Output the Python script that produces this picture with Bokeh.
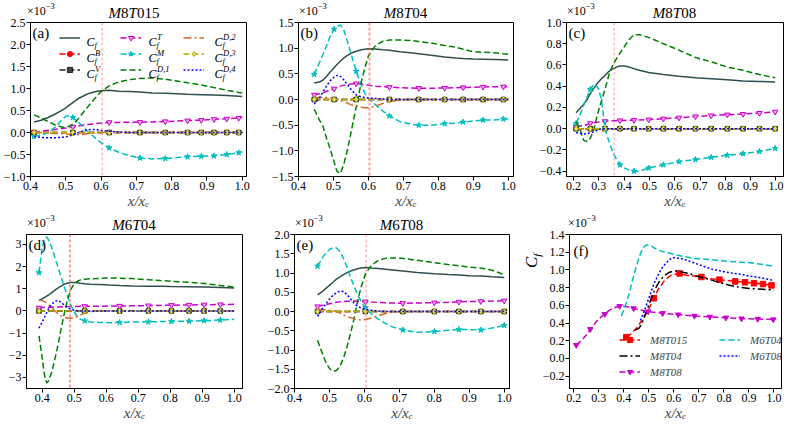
from bokeh.plotting import figure
from bokeh.layouts import row, column
from bokeh.models import (Range1d, FixedTicker, CustomJSTickFormatter, Span, Label,
                          Legend, LegendItem, Div)
from bokeh.embed import file_html
from bokeh.resources import INLINE

FONT = "Liberation Serif"

# ---------------- data (values in units of 1e-3) ----------------
# (a) M8T015
xa = [0.41, 0.43, 0.45, 0.47, 0.49, 0.50, 0.51, 0.52, 0.53, 0.54, 0.55, 0.56, 0.57, 0.58, 0.59,
      0.60, 0.623, 0.65, 0.68, 0.71, 0.745, 0.782, 0.815, 0.845, 0.884, 0.92, 0.956, 0.99, 1.0]
mk_a = [0, 7, 16, 19, 21, 23, 24, 25, 26, 27]
cf_a = [0.24, 0.28, 0.34, 0.42, 0.51, 0.56, 0.62, 0.68, 0.74, 0.79, 0.83, 0.87, 0.90, 0.92, 0.94,
        0.95, 0.96, 0.94, 0.93, 0.92, 0.90, 0.89, 0.88, 0.87, 0.86, 0.85, 0.84, 0.825, 0.82]
b_a = [0.0, 0.0, 0.0, 0.0, 0.0, 0.0, 0.0, 0.0, 0.0, 0.0, 0.0, 0.0, 0.0, 0.0, 0.0,
       0.0, 0.0, 0.0, 0.0, 0.0, 0.0, 0.0, 0.0, 0.0, 0.0, 0.0, 0.0, 0.0, 0.0]
v_a = [0.0, 0.0, 0.0, 0.0, 0.0, 0.0, 0.0, 0.0, 0.0, 0.0, 0.0, 0.0, 0.0, 0.0, 0.0,
       0.0, 0.0, 0.0, 0.0, 0.0, 0.0, 0.0, 0.0, 0.0, 0.0, 0.0, 0.0, 0.0, 0.0]
t_a = [0.0, 0.03, 0.05, 0.07, 0.09, 0.10, 0.12, 0.13, 0.14, 0.155, 0.17, 0.18, 0.19, 0.20, 0.21,
       0.215, 0.23, 0.23, 0.235, 0.235, 0.24, 0.25, 0.26, 0.27, 0.28, 0.30, 0.31, 0.33, 0.34]
m_a = [-0.09, -0.06, 0.0, 0.12, 0.30, 0.37, 0.39, 0.34, 0.27, 0.20, 0.12, 0.04, -0.03, -0.10, -0.17,
       -0.23, -0.35, -0.45, -0.53, -0.58, -0.60, -0.59, -0.57, -0.55, -0.54, -0.53, -0.50, -0.46, -0.44]
d1_a = [0.40, 0.33, 0.25, 0.17, 0.12, 0.12, 0.14, 0.19, 0.26, 0.36, 0.46, 0.56, 0.66, 0.75, 0.84,
        0.93, 1.06, 1.15, 1.20, 1.23, 1.24, 1.21, 1.17, 1.13, 1.08, 1.02, 0.96, 0.91, 0.90]
d2_a = [0.0, 0.0, -0.01, -0.02, -0.03, -0.04, -0.04, -0.05, -0.05, -0.05, -0.04, -0.03, -0.02, -0.01, 0.0,
        0.0, 0.0, 0.0, 0.0, 0.0, 0.0, 0.0, 0.0, 0.0, 0.0, 0.0, 0.0, 0.0, 0.0]
d3_a = [0.0, 0.0, 0.0, 0.0, 0.0, 0.0, 0.0, 0.0, 0.0, 0.0, 0.0, 0.0, 0.0, 0.0, 0.0,
        0.0, 0.0, 0.0, 0.0, 0.0, 0.0, 0.0, 0.0, 0.0, 0.0, 0.0, 0.0, 0.0, 0.0]
d4_a = [-0.09, -0.11, -0.12, -0.12, -0.11, -0.10, -0.08, -0.05, -0.02, 0.01, 0.04, 0.06, 0.07, 0.07, 0.06,
        0.05, 0.03, 0.01, 0.0, 0.0, 0.0, 0.0, 0.0, 0.0, 0.0, 0.0, 0.0, 0.0, 0.0]

# (b) M8T04
xb = [0.445, 0.46, 0.47, 0.48, 0.49, 0.502, 0.51, 0.52, 0.53, 0.54, 0.55, 0.565, 0.58, 0.59, 0.60,
      0.62, 0.64, 0.66, 0.69, 0.72, 0.744, 0.78, 0.818, 0.85, 0.871, 0.90, 0.928, 0.96, 0.986, 1.0]
mk_b = [0, 5, 11, 17, 20, 22, 24, 26, 28]
cf_b = [0.32, 0.34, 0.38, 0.45, 0.53, 0.62, 0.68, 0.75, 0.81, 0.86, 0.90, 0.94, 0.97, 0.98, 0.99,
        0.985, 0.97, 0.96, 0.93, 0.91, 0.89, 0.86, 0.83, 0.81, 0.80, 0.79, 0.785, 0.78, 0.775, 0.77]
b_b = [0.0, 0.0, 0.0, 0.0, 0.0, 0.0, 0.0, 0.0, 0.0, 0.0, 0.0, 0.0, 0.0, 0.0, 0.0,
       0.0, 0.0, 0.0, 0.0, 0.0, 0.0, 0.0, 0.0, 0.0, 0.0, 0.0, 0.0, 0.0, 0.0, 0.0]
v_b = [0.0, 0.0, 0.0, 0.0, 0.0, 0.0, 0.0, 0.0, 0.0, 0.0, 0.0, 0.0, 0.0, 0.0, 0.0,
       0.0, 0.0, 0.0, 0.0, 0.0, 0.0, 0.0, 0.0, 0.0, 0.0, 0.0, 0.0, 0.0, 0.0, 0.0]
t_b = [0.09, 0.11, 0.13, 0.16, 0.18, 0.21, 0.24, 0.26, 0.28, 0.29, 0.30, 0.31, 0.30, 0.29, 0.28,
       0.26, 0.25, 0.24, 0.23, 0.225, 0.22, 0.22, 0.225, 0.23, 0.235, 0.24, 0.245, 0.25, 0.25, 0.25]
m_b = [0.49, 0.72, 0.88, 1.05, 1.22, 1.37, 1.43, 1.45, 1.35, 1.13, 0.90, 0.55, 0.27, 0.12, 0.02,
       -0.10, -0.22, -0.32, -0.43, -0.48, -0.50, -0.50, -0.47, -0.46, -0.44, -0.42, -0.40, -0.40, -0.38, -0.38]
d1_b = [-0.19, -0.40, -0.52, -0.75, -0.95, -1.22, -1.40, -1.44, -1.25, -0.98, -0.65, -0.15, 0.35, 0.62, 0.85,
        1.05, 1.13, 1.16, 1.16, 1.15, 1.13, 1.10, 1.05, 1.02, 0.98, 0.93, 0.92, 0.91, 0.89, 0.88]
d2_b = [0.03, 0.04, 0.04, 0.04, 0.03, 0.02, 0.0, -0.02, -0.04, -0.07, -0.10, -0.13, -0.15, -0.16, -0.16,
        -0.13, -0.08, -0.04, -0.01, 0.0, 0.0, 0.0, 0.0, 0.0, 0.0, 0.0, 0.0, 0.0, 0.0, 0.0]
d3_b = [0.0, 0.0, 0.0, 0.0, 0.0, 0.0, 0.0, 0.0, 0.0, 0.0, 0.0, 0.0, 0.0, 0.0, 0.0,
        0.0, 0.0, 0.0, 0.0, 0.0, 0.0, 0.0, 0.0, 0.0, 0.0, 0.0, 0.0, 0.0, 0.0, 0.0]
d4_b = [-0.09, 0.03, 0.15, 0.26, 0.36, 0.44, 0.47, 0.45, 0.38, 0.29, 0.20, 0.09, 0.05, 0.04, 0.03,
        0.02, 0.01, 0.0, 0.0, 0.0, 0.0, 0.0, 0.0, 0.0, 0.0, 0.0, 0.0, 0.0, 0.0, 0.0]

# (c) M8T08
xc = [0.21, 0.225, 0.24, 0.255, 0.266, 0.28, 0.295, 0.31, 0.324, 0.34, 0.355, 0.37, 0.383,
      0.40, 0.42, 0.439, 0.46, 0.497, 0.555, 0.617, 0.682, 0.744, 0.808, 0.870, 0.935, 0.997]
mk_c = [0, 4, 8, 12, 15, 17, 18, 19, 20, 21, 22, 23, 24, 25]
cf_c = [0.15, 0.19, 0.23, 0.28, 0.33, 0.38, 0.43, 0.47, 0.50, 0.54, 0.565, 0.58, 0.59,
        0.59, 0.58, 0.565, 0.55, 0.53, 0.51, 0.495, 0.48, 0.47, 0.46, 0.45, 0.445, 0.44]
b_c = [0.0, 0.0, 0.0, 0.0, 0.0, 0.0, 0.0, 0.0, 0.0, 0.0, 0.0, 0.0, 0.0,
       0.0, 0.0, 0.0, 0.0, 0.0, 0.0, 0.0, 0.0, 0.0, 0.0, 0.0, 0.0, 0.0]
v_c = [0.0, 0.0, 0.0, 0.0, 0.0, 0.0, 0.0, 0.0, 0.0, 0.0, 0.0, 0.0, 0.0,
       0.0, 0.0, 0.0, 0.0, 0.0, 0.0, 0.0, 0.0, 0.0, 0.0, 0.0, 0.0, 0.0]
t_c = [0.02, 0.025, 0.03, 0.04, 0.05, 0.055, 0.06, 0.065, 0.07, 0.072, 0.074, 0.076, 0.077,
       0.078, 0.079, 0.08, 0.082, 0.085, 0.094, 0.103, 0.115, 0.124, 0.132, 0.138, 0.147, 0.159]
m_c = [0.05, 0.13, 0.22, 0.31, 0.37, 0.42, 0.39, 0.28, 0.0, -0.12, -0.22, -0.29, -0.34,
       -0.37, -0.39, -0.40, -0.40, -0.37, -0.34, -0.31, -0.29, -0.27, -0.25, -0.235, -0.215, -0.185]
d1_c = [0.065, 0.0, -0.11, -0.12, -0.09, -0.01, 0.14, 0.26, 0.37, 0.51, 0.60, 0.66, 0.71,
        0.77, 0.84, 0.885, 0.885, 0.86, 0.80, 0.74, 0.67, 0.63, 0.58, 0.55, 0.51, 0.48]
d2_c = [0.0, 0.0, 0.0, 0.0, 0.0, 0.0, 0.0, 0.0, 0.0, 0.0, 0.0, 0.0, 0.0,
        0.0, 0.0, 0.0, 0.0, 0.0, 0.0, 0.0, 0.0, 0.0, 0.0, 0.0, 0.0, 0.0]
d3_c = [0.0, 0.0, 0.0, 0.0, 0.0, 0.0, 0.0, 0.0, 0.0, 0.0, 0.0, 0.0, 0.0,
        0.0, 0.0, 0.0, 0.0, 0.0, 0.0, 0.0, 0.0, 0.0, 0.0, 0.0, 0.0, 0.0]
d4_c = [-0.035, -0.045, -0.05, -0.045, -0.04, -0.03, -0.015, 0.0, 0.0, 0.0, 0.0, 0.0, 0.0,
        0.0, 0.0, 0.0, 0.0, 0.0, 0.0, 0.0, 0.0, 0.0, 0.0, 0.0, 0.0, 0.0]

# (d) M6T04
xd = [0.39, 0.40, 0.405, 0.41, 0.415, 0.42, 0.43, 0.44, 0.45, 0.46, 0.47, 0.48, 0.49, 0.50, 0.51,
      0.52, 0.533, 0.55, 0.58, 0.61, 0.642, 0.68, 0.732, 0.77, 0.804, 0.859, 0.906, 0.957, 1.0]
mk_d = [0, 16, 20, 22, 24, 25, 26, 27]
cf_d = [0.48, 0.55, 0.59, 0.63, 0.68, 0.72, 0.83, 0.94, 1.04, 1.13, 1.21, 1.26, 1.28, 1.28, 1.27,
        1.25, 1.23, 1.21, 1.19, 1.17, 1.15, 1.13, 1.12, 1.11, 1.10, 1.09, 1.08, 1.06, 1.04]
b_d = [0.0, 0.0, 0.0, 0.0, 0.0, 0.0, 0.0, 0.0, 0.0, 0.0, 0.0, 0.0, 0.0, 0.0, 0.0,
       0.0, 0.0, 0.0, 0.0, 0.0, 0.0, 0.0, 0.0, 0.0, 0.0, 0.0, 0.0, 0.0, 0.0]
v_d = [0.0, 0.0, 0.0, 0.0, 0.0, 0.0, 0.0, 0.0, 0.0, 0.0, 0.0, 0.0, 0.0, 0.0, 0.0,
       0.0, 0.0, 0.0, 0.0, 0.0, 0.0, 0.0, 0.0, 0.0, 0.0, 0.0, 0.0, 0.0, 0.0]
t_d = [0.14, 0.15, 0.15, 0.155, 0.16, 0.16, 0.17, 0.175, 0.18, 0.185, 0.19, 0.195, 0.2, 0.2, 0.205,
       0.21, 0.21, 0.21, 0.215, 0.22, 0.225, 0.23, 0.24, 0.25, 0.26, 0.27, 0.28, 0.29, 0.30]
m_d = [1.73, 2.85, 3.15, 3.32, 3.33, 3.2, 2.85, 2.4, 1.95, 1.5, 1.05, 0.62, 0.25, -0.05, -0.25,
       -0.38, -0.45, -0.5, -0.52, -0.53, -0.52, -0.5, -0.49, -0.48, -0.47, -0.46, -0.44, -0.41, -0.38]
d1_d = [-1.13, -2.1, -2.7, -3.1, -3.25, -3.15, -2.75, -2.15, -1.5, -0.75, -0.05, 0.55, 0.98, 1.22, 1.34,
        1.40, 1.43, 1.45, 1.47, 1.49, 1.48, 1.46, 1.41, 1.37, 1.34, 1.29, 1.24, 1.15, 1.08]
d2_d = [0.50, 0.46, 0.43, 0.40, 0.34, 0.28, 0.14, 0.0, -0.14, -0.22, -0.29, -0.33, -0.33, -0.30, -0.25,
        -0.18, -0.10, -0.03, 0.0, 0.0, 0.0, 0.0, 0.0, 0.0, 0.0, 0.0, 0.0, 0.0, 0.0]
d3_d = [0.0, 0.0, 0.0, 0.0, 0.0, 0.0, 0.0, 0.0, 0.0, 0.0, 0.0, 0.0, 0.0, 0.0, 0.0,
        0.0, 0.0, 0.0, 0.0, 0.0, 0.0, 0.0, 0.0, 0.0, 0.0, 0.0, 0.0, 0.0, 0.0]
d4_d = [-0.78, -0.5, -0.35, -0.2, -0.05, 0.1, 0.3, 0.44, 0.47, 0.38, 0.25, 0.14, 0.07, 0.03, 0.01,
        0.0, 0.0, 0.0, 0.0, 0.0, 0.0, 0.0, 0.0, 0.0, 0.0, 0.0, 0.0, 0.0, 0.0]

# (e) M6T08
xe = [0.466, 0.48, 0.49, 0.50, 0.51, 0.52, 0.53, 0.54, 0.55, 0.56, 0.57, 0.58, 0.59, 0.603,
      0.62, 0.64, 0.66, 0.68, 0.71, 0.75, 0.80, 0.84, 0.87, 0.90, 0.933, 0.965, 1.0]
mk_e = [0, 13, 18, 20, 22, 24, 26]
cf_e = [0.43, 0.52, 0.60, 0.68, 0.76, 0.84, 0.90, 0.96, 1.01, 1.05, 1.08, 1.11, 1.13, 1.14,
        1.13, 1.12, 1.10, 1.08, 1.05, 1.01, 0.98, 0.96, 0.95, 0.93, 0.92, 0.90, 0.88]
b_e = [0.0, 0.0, 0.0, 0.0, 0.0, 0.0, 0.0, 0.0, 0.0, 0.0, 0.0, 0.0, 0.0, 0.0,
       0.0, 0.0, 0.0, 0.0, 0.0, 0.0, 0.0, 0.0, 0.0, 0.0, 0.0, 0.0, 0.0]
v_e = [0.0, 0.0, 0.0, 0.0, 0.0, 0.0, 0.0, 0.0, 0.0, 0.0, 0.0, 0.0, 0.0, 0.0,
       0.0, 0.0, 0.0, 0.0, 0.0, 0.0, 0.0, 0.0, 0.0, 0.0, 0.0, 0.0, 0.0]
t_e = [0.13, 0.16, 0.18, 0.20, 0.22, 0.24, 0.25, 0.26, 0.265, 0.27, 0.27, 0.265, 0.26, 0.255,
       0.245, 0.235, 0.225, 0.22, 0.215, 0.22, 0.23, 0.24, 0.25, 0.26, 0.265, 0.27, 0.28]
m_e = [1.18, 1.40, 1.52, 1.61, 1.66, 1.65, 1.56, 1.38, 1.15, 0.90, 0.66, 0.45, 0.27, 0.10,
       -0.06, -0.20, -0.31, -0.40, -0.48, -0.54, -0.52, -0.49, -0.47, -0.47, -0.48, -0.43, -0.36]
d1_e = [-0.75, -1.10, -1.33, -1.48, -1.55, -1.53, -1.42, -1.22, -0.92, -0.58, -0.2, 0.25, 0.62, 0.98,
        1.20, 1.33, 1.38, 1.39, 1.38, 1.33, 1.27, 1.22, 1.19, 1.15, 1.13, 1.07, 0.96]
d2_e = [0.06, 0.05, 0.04, 0.03, 0.02, 0.0, -0.04, -0.09, -0.13, -0.16, -0.19, -0.21, -0.22, -0.21,
        -0.17, -0.11, -0.05, -0.02, 0.0, 0.0, 0.0, 0.0, 0.0, 0.0, 0.0, 0.0, 0.0]
d3_e = [0.0, 0.0, 0.0, 0.0, 0.0, 0.0, 0.0, 0.0, 0.0, 0.0, 0.0, 0.0, 0.0, 0.0,
        0.0, 0.0, 0.0, 0.0, 0.0, 0.0, 0.0, 0.0, 0.0, 0.0, 0.0, 0.0, 0.0]
d4_e = [-0.13, 0.08, 0.2, 0.32, 0.42, 0.49, 0.53, 0.52, 0.44, 0.33, 0.22, 0.14, 0.09, 0.06,
        0.03, 0.01, 0.0, 0.0, 0.0, 0.0, 0.0, 0.0, 0.0, 0.0, 0.0, 0.0, 0.0]

# separation locations (vertical dashed lines)
vline_x = [0.603, 0.603, 0.36, 0.487, 0.605]

# tick values
xt_04 = [0.4, 0.5, 0.6, 0.7, 0.8, 0.9, 1.0]
xt_02 = [0.2, 0.3, 0.4, 0.5, 0.6, 0.7, 0.8, 0.9, 1.0]
yt_a = [-1.0, -0.5, 0.0, 0.5, 1.0, 1.5, 2.0, 2.5]
yt_b = [-1.5, -1.0, -0.5, 0.0, 0.5, 1.0, 1.5]
yt_c = [-0.4, -0.2, 0.0, 0.2, 0.4, 0.6, 0.8, 1.0]
yt_d = [-3, -2, -1, 0, 1, 2, 3]
yt_e = [-2.0, -1.5, -1.0, -0.5, 0.0, 0.5, 1.0, 1.5, 2.0]
yt_f = [-0.2, 0.0, 0.2, 0.4, 0.6, 0.8, 1.0, 1.2, 1.4]

case_names = ["M8T015", "M8T04", "M8T08", "M6T04", "M6T08"]
panel_tags = ["(a)", "(b)", "(c)", "(d)", "(e)", "(f)"]
legend_sup = ["", "B", "V", "T", "M", "D,1", "D,2", "D,3", "D,4"]

# ---------------- styles ----------------
KEYS = ["cf", "B", "V", "T", "M", "D1", "D2", "D3", "D4"]
STY = {
    "cf": dict(color="#2f4f4f", dash="solid", marker=None),
    "B": dict(color="#ff0000", dash="6 3", marker="circle", fill="#ff0000", size=4.5),
    "V": dict(color="#222222", dash="6 3", marker="square", fill="#444444", size=4.5),
    "T": dict(color="#cc00cc", dash="6 3", marker="inverted_triangle", fill="#f0a8f0", size=5.5),
    "M": dict(color="#00bfbf", dash="6 3", marker="star", fill="#00bfbf", size=6),
    "D1": dict(color="#008000", dash="6 3", marker=None),
    "D2": dict(color="#d2691e", dash="8 3 2 3", marker=None),
    "D3": dict(color="#b0b000", dash="6 3", marker="diamond", fill="#e6e67a", size=6),
    "D4": dict(color="#0000ff", dash="2 2", marker=None),
}
TD_ROW = [14, 12]   # height of the title strip above each row of plots
BT, BB, FH = 8, 38, 154
FIG_H = BT + FH + BB
SERIF = "'Liberation Serif', 'Times New Roman', serif"


def fmt(dec):
    return CustomJSTickFormatter(code=(
        "const v = Math.abs(tick) < 1e-9 ? 0 : tick;"
        f"return v.toFixed({dec}).replace('-', '\\u2212');"))


def add_text(p, text, dx, dy, size, style="normal", align="left", baseline="alphabetic"):
    p.add_layout(Label(x=p.x_range.start, y=p.y_range.end, x_offset=dx, y_offset=dy, text=text,
                       text_font=FONT, text_font_size=f"{size}px", text_font_style=style,
                       text_align=align, text_baseline=baseline, text_color="black"))


def math_name(name):
    return "".join(f"<i>{ch}</i>" if ch.isalpha() else ch for ch in name)


def title_div(total_w, td, bl, fw, name):
    # the texts hang a few pixels below the strip, into the (transparent) top border of the plot
    html = (f'<div style="position:relative;width:{total_w}px;height:{td}px;overflow:visible;'
            f'font-family:{SERIF};color:black;">'
            f'<span style="position:absolute;left:{bl + 1}px;bottom:-4px;font-size:12px;'
            f'line-height:12px;white-space:nowrap;">×10<span style="font-size:8.5px;'
            f'position:relative;top:-6px;">−3</span></span>')
    if name:
        html += (f'<span style="position:absolute;left:{bl}px;width:{fw}px;bottom:-7px;'
                 f'text-align:center;font-size:15px;line-height:15px;white-space:nowrap;">'
                 f'{math_name(name)}</span>')
    html += '</div>'
    return Div(text=html, width=total_w, height=td, margin=0, styles={"overflow": "visible"})


def base_fig(xr, yr, fw, bl, br, xt, yt, ydec, tag, tag_off=(2, -2)):
    p = figure(frame_width=fw, frame_height=FH, x_range=Range1d(*xr), y_range=Range1d(*yr),
               min_border_left=bl, min_border_right=br, min_border_top=BT, min_border_bottom=BB,
               output_backend="svg", toolbar_location=None, tools="")
    p.grid.visible = False
    p.outline_line_color = "black"
    p.outline_line_alpha = 1.0
    p.background_fill_color = "white"
    p.border_fill_alpha = 0
    p.xaxis.ticker = FixedTicker(ticks=xt)
    p.yaxis.ticker = FixedTicker(ticks=yt)
    p.xaxis.formatter = fmt(1)
    p.yaxis.formatter = fmt(ydec)
    for ax in [p.xaxis[0], p.yaxis[0]]:
        ax.major_label_text_font = FONT
        ax.major_label_text_font_size = "12px"
        ax.major_label_text_color = "black"
        ax.major_tick_out = 4
        ax.major_tick_in = 0
        ax.minor_tick_out = 0
        ax.minor_tick_in = 0
        ax.axis_line_color = "black"
        ax.major_tick_line_color = "black"
        ax.major_label_standoff = 1
    p.xaxis.axis_label = "x/xₑ"
    p.xaxis.axis_label_text_font = FONT
    p.xaxis.axis_label_text_font_size = "15px"
    p.xaxis.axis_label_text_font_style = "italic"
    p.xaxis.axis_label_standoff = 0
    add_text(p, tag, tag_off[0], tag_off[1], 15, "normal", "left", "top")
    return p


def draw_series(p, x, y, st, mk):
    rs = [p.line(x, y, line_color=st["color"], line_dash=st["dash"], line_width=1.5)]
    if st["marker"]:
        rs.append(p.scatter([x[i] for i in mk], [y[i] for i in mk], marker=st["marker"],
                            size=st["size"], line_color=st["color"], fill_color=st["fill"],
                            line_width=1))
    return rs


panels = [
    dict(x=xa, mk=mk_a, s=[cf_a, b_a, v_a, t_a, m_a, d1_a, d2_a, d3_a, d4_a],
         xr=(0.4, 1.012), yr=(-1.0, 2.5), fw=216, bl=26, br=14, xt=xt_04, yt=yt_a, dec=1, vw=1.0),
    dict(x=xb, mk=mk_b, s=[cf_b, b_b, v_b, t_b, m_b, d1_b, d2_b, d3_b, d4_b],
         xr=(0.4, 1.015), yr=(-1.5, 1.5), fw=215, bl=38, br=14, xt=xt_04, yt=yt_b, dec=1, vw=2.0),
    dict(x=xc, mk=mk_c, s=[cf_c, b_c, v_c, t_c, m_c, d1_c, d2_c, d3_c, d4_c],
         xr=(0.172, 1.03), yr=(-0.45, 1.0), fw=217, bl=39, br=2, xt=xt_02, yt=yt_c, dec=1, vw=1.0),
    dict(x=xd, mk=mk_d, s=[cf_d, b_d, v_d, t_d, m_d, d1_d, d2_d, d3_d, d4_d],
         xr=(0.351, 1.026), yr=(-3.5, 3.45), fw=216, bl=26, br=14, xt=xt_04, yt=yt_d, dec=0, vw=2.0),
    dict(x=xe, mk=mk_e, s=[cf_e, b_e, v_e, t_e, m_e, d1_e, d2_e, d3_e, d4_e],
         xr=(0.4, 1.015), yr=(-2.0, 2.0), fw=215, bl=38, br=14, xt=xt_04, yt=yt_e, dec=1, vw=1.0),
]

cells = []
for k, pn in enumerate(panels):
    p = base_fig(pn["xr"], pn["yr"], pn["fw"], pn["bl"], pn["br"], pn["xt"], pn["yt"],
                 pn["dec"], panel_tags[k])
    rends = {}
    for key, ys in zip(KEYS, pn["s"]):
        rends[key] = draw_series(p, pn["x"], ys, STY[key], pn["mk"])
    p.add_layout(Span(location=vline_x[k], dimension="height", line_color="#ff5a5a",
                      line_dash="3 2", line_width=pn["vw"], line_alpha=0.6))
    if k == 0:
        sample_x = [29, 90, 153]
        text_x = [56, 118, 184]
        row_c = [15, 31, 47]
        for c in range(3):
            keys = KEYS[3 * c:3 * c + 3]
            items = [LegendItem(label=" ", renderers=rends[kk]) for kk in keys]
            lg = Legend(items=items, location=(sample_x[c], FH - 53.5), orientation="vertical",
                        glyph_width=21, glyph_height=13, label_height=13, label_width=1,
                        label_standoff=0, spacing=3, padding=0, margin=0,
                        label_text_font_size="6px", border_line_alpha=0,
                        background_fill_alpha=0)
            p.add_layout(lg)
            for r in range(3):
                sup = legend_sup[3 * c + r]
                rc = row_c[r]
                add_text(p, "C", text_x[c], -(rc + 4), 12, "italic")
                add_text(p, "f", text_x[c] + 8, -(rc + 7), 8.5, "italic")
                if sup:
                    add_text(p, sup, text_x[c] + 8.5, -(rc - 1), 8.5, "italic")
    total_w = pn["bl"] + pn["fw"] + pn["br"]
    td = TD_ROW[k // 3]
    cells.append(column(title_div(total_w, td, pn["bl"], pn["fw"], case_names[k]), p,
                        spacing=0))

# (f) comparison of C_f
FW_F, BL_F, CF_W = 212, 28, 16
pf = base_fig((0.183, 1.03), (-0.34, 1.4), FW_F, BL_F, 2, xt_02, yt_f, 1, panel_tags[5],
              tag_off=(4, -8))
f_series = [
    (xa, cf_a, mk_a, dict(color="#ff0000", dash="6 3", marker="square", fill="#ff0000", size=5.5)),
    (xb, cf_b, mk_b, dict(color="#000000", dash="8 3 2 3", marker=None)),
    (xc, cf_c, mk_c, dict(color="#cc00cc", dash="6 3", marker="inverted_triangle",
                          fill="#cc00cc", size=5.5)),
    (xd, cf_d, mk_d, dict(color="#00bfbf", dash="6 3", marker=None)),
    (xe, cf_e, mk_e, dict(color="#0000ff", dash="2 2", marker=None)),
]
f_items = []
for (x, y, mk, st), nm in zip(f_series, case_names):
    f_items.append(LegendItem(label=nm, renderers=draw_series(pf, x, y, st, mk)))
for items, loc in [(f_items[:3], (50, 10)), (f_items[3:], (150, 26))]:
    pf.add_layout(Legend(items=items, location=loc, orientation="vertical",
                         glyph_width=21, glyph_height=13, label_height=13,
                         label_standoff=10, spacing=3, padding=0, margin=0,
                         label_text_font=FONT, label_text_font_size="11px",
                         label_text_font_style="italic", border_line_alpha=0,
                         background_fill_alpha=0))
cf_html = (f'<div style="position:relative;width:{CF_W}px;height:{FIG_H}px;font-family:{SERIF};'
           f'color:black;"><span style="position:absolute;left:0px;top:{BT + 34}px;'
           f'transform-origin:0 0;transform:rotate(-90deg);white-space:nowrap;font-size:17px;'
           f'line-height:17px;font-style:italic;">C<span style="font-size:11px;position:relative;'
           f'top:4px;">f</span></span></div>')
cf_div = Div(text=cf_html, width=CF_W, height=FIG_H, margin=0)
cells.append(column(title_div(CF_W + BL_F + FW_F + 2, TD_ROW[1], CF_W + BL_F, FW_F, ""),
                    row(cf_div, pf, spacing=0), spacing=0))

layout = column(row(cells[0], cells[1], cells[2], spacing=0),
                row(cells[3], cells[4], cells[5], spacing=0), spacing=0)
with open("out.html", "w", encoding="utf-8") as fh:
    fh.write(file_html(layout, INLINE))
